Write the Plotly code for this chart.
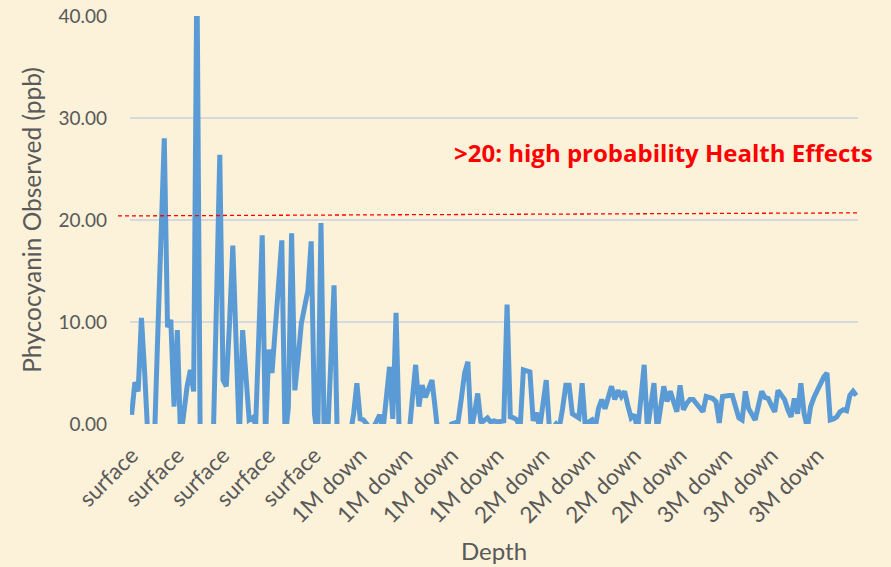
import plotly.graph_objects as go

# Phycocyanin readings (ppb), one per sample, in sample order
# (negative entries are dips that run below the 0 axis and are clipped in the picture)
phycocyanin = [
    0.9, 4.1, 3.2, 10.4, 5.0, -1.5, -1.5, -1.5, 8.7, 18.3,
    28.0, 9.5, 10.2, 1.7, 9.2, -1.5, 1.5, 3.7, 5.3, 3.2,
    45.0, -1.5, -1.5, -1.0, -1.5, -1.5, 12.0, 26.4, 4.3, 3.7,
    10.0, 17.5, 8.0, -1.5, 9.2, 4.0, 0.4, 0.6, 0, 9.0,
    18.5, -1.5, 7.3, 5.0, 9.5, 13.8, 18.0, -1.5, 1.6, 18.7,
    3.3, 6.5, 9.9, 11.5, 13.1, 17.9, 1.0, -1.5, 19.7, -1.5,
    -1.5, 6.0, 13.6, -1.5, -1.5, -1.0, -1.5, -1.0, 1.0, 4.0,
    0.5, 0.4, 0, -0.4, -0.4, 0.3, 0.9, -0.6, 2.5, 5.6,
    0.5, 10.9, -1.5, -1.5, -1.0, -1.0, 2.5, 5.8, 1.7, 3.8,
    2.6, 3.4, 4.3, 1.5, -1.5, -1.5, -1.0, -1.0, 0, 0.1,
    0.2, 2.5, 5.0, 6.1, -0.6, 1.0, 3.0, 0.1, 0.4, 0.6,
    0.2, 0.3, 0.2, 0.2, 0.3, 11.7, 0.7, 0.6, 0.4, -0.4,
    5.3, 5.2, 5.1, 0.3, 1.1, -0.4, 2.0, 4.3, -0.6, -0.4,
    0, -0.4, 1.5, 3.8, 3.8, 1.0, 0.8, 0.6, 4.0, -0.4,
    0.2, 0.4, -0.4, 1.5, 2.4, 1.5, 2.6, 3.7, 2.4, 3.3,
    2.7, 3.2, 1.8, 0.6, 0.9, -0.6, 2.5, 5.8, -0.6, 2.0,
    4.0, -0.6, 1.5, 3.7, 2.2, 3.2, 2.2, 1.2, 3.8, 1.4,
    2.0, 2.4, 2.4, 2.0, 1.7, 1.2, 2.7, 2.6, 2.5, 2.2,
    0.1, 2.7, 2.8, 2.8, 2.8, 1.6, 0.6, 0.4, 3.2, 1.5,
    0.9, 0.4, 1.8, 3.2, 2.6, 2.5, 1.8, 1.2, 3.3, 2.8,
    2.4, 1.4, 0.7, 2.5, 1.0, 4.0, 1.0, -0.4, 1.7, 2.6,
    3.3, 3.8, 4.6, 5.0, 0.4, 0.5, 0.7, 1.2, 1.4, 1.3,
    2.8, 3.2, 2.8,
]

# Depth category of each sample
depth_groups = ["surface", "1M down", "2M down", "3M down"]
group_sizes = [70, 56, 56, 41]
depth = [g for g, n in zip(depth_groups, group_sizes) for _ in range(n)]
label_step = 14

y_ticks = [0, 10, 20, 30, 40]
threshold_y = [20.4, 20.7]          # the hand-drawn dashed line, left/right ends
threshold_text = ">20: high probability Health Effects"

n = len(phycocyanin)
x = list(range(n))
tickvals = list(range(0, n, label_step))
ticktext = [depth[i] for i in tickvals]

font_family = "Lato, 'Open Sans', sans-serif"
grey = "#595959"
bg = "#FCF1D9"

fig = go.Figure()
fig.add_trace(go.Scatter(
    x=x, y=phycocyanin, mode="lines",
    line=dict(color="#5B9BD5", width=5, shape="linear"),
    customdata=depth, hovertemplate="%{customdata}: %{y:.2f}<extra></extra>",
))

fig.add_shape(type="line", xref="paper", yref="y",
              x0=-0.0165, x1=1.0, y0=threshold_y[0], y1=threshold_y[1],
              line=dict(color="#FF0000", width=1.3, dash="4px,3px"))

fig.add_annotation(text="<b>" + threshold_text + "</b>", xref="paper", yref="y",
                   x=0.733, y=26.6, showarrow=False, xanchor="center", yanchor="middle",
                   font=dict(family="'Open Sans', sans-serif", size=24, color="#FF0000"))

fig.update_layout(
    width=891, height=567,
    margin=dict(l=130, r=33, t=16, b=143),
    paper_bgcolor=bg, plot_bgcolor=bg,
    showlegend=False,
    font=dict(family=font_family, color=grey),
    xaxis=dict(
        range=[-0.5, n - 0.5], tickmode="array", tickvals=tickvals, ticktext=ticktext,
        tickangle=-45, showgrid=False, zeroline=False, showline=False, ticks="",
        ticklabelstandoff=13,
        tickfont=dict(family=font_family, size=22.5, color=grey),
        title=dict(text="Depth", font=dict(family=font_family, size=24, color=grey), standoff=16),
        automargin=False,
    ),
    yaxis=dict(
        range=[0, 40], tickmode="array", tickvals=y_ticks, tickformat=".2f",
        showgrid=True, gridcolor="#D6D9DE", gridwidth=1.5, zeroline=False, showline=False,
        ticks="", ticklabelstandoff=22,
        tickfont=dict(family=font_family, size=19, color=grey),
        title=dict(text="Phycocyanin Observed (ppb)", font=dict(family=font_family, size=24.5, color=grey), standoff=9),
        automargin=False,
    ),
)

fig.write_html(
    "out.html",
    config={"displayModeBar": False},
    post_script="document.body.style.margin='0';document.body.style.background='" + bg + "';",
)
